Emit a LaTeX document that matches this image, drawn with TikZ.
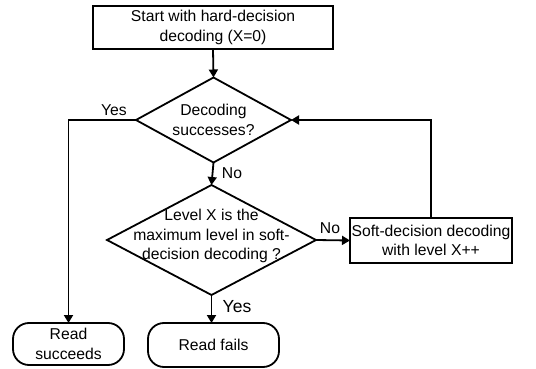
\documentclass[tikz,border=0pt]{standalone}
\usepackage{fontspec}
\setmainfont{Liberation Sans}
\usetikzlibrary{shapes.geometric,arrows.meta}
\begin{document}
\begin{tikzpicture}[x=1pt,y=-1pt,
  every node/.style={font=\fontsize{15.7}{19.5}\selectfont},
  proc/.style={draw,line width=1.8pt,inner sep=0pt,outer sep=0pt,align=center},
  dia/.style={draw,diamond,line width=1.8pt,inner sep=0pt,outer sep=0pt},
  term/.style={draw,line width=1.8pt,rounded corners=16pt,inner sep=0pt,outer sep=0pt,align=center},
  txt/.style={align=center,inner sep=0pt},
  lbl/.style={inner sep=0pt},
  arr/.style={line width=1.8pt,-{Triangle[length=8pt,width=9pt]}},
  ln/.style={line width=1.8pt}]
\useasboundingbox (0,0) rectangle (536,369);
\node[proc,minimum width=240pt,minimum height=43pt] (top) at (213,27.5) {Start with hard-decision\\decoding (X=0)};
\node[dia,minimum width=155pt,minimum height=85pt] (d1) at (213.5,120) {};
\node[txt] (t1) at (d1) {Decoding\\successes?};
\node[dia,minimum width=209pt,minimum height=110pt] (d2) at (211.5,240) {};
\node[txt] (t2) at (211.5,236) {Level X is the\\maximum level in soft-\\decision decoding ?};
\node[proc,minimum width=162pt,minimum height=45pt] (b2) at (431,240.5) {Soft-decision decoding\\with level X++};
\node[term,minimum width=111pt,minimum height=42pt] (rs) at (68.5,344) {Read\\succeeds};
\node[term,minimum width=131pt,minimum height=44pt] (rf) at (213.5,345) {Read fails};
\draw[arr] (top.south) -- (d1.north);
\draw[arr] (d1.west) -| (rs.north);
\draw[arr] (d1.south) -- (d2.north);
\draw[arr] (d2.east) -- (b2.west);
\draw[arr] (b2.north) |- (d1.east);
\draw[arr] (d2.south) -- (d2.south |- rf.north);
\node[lbl] (l1) at (114,110) {Yes};
\node[lbl] (l2) at (232,173) {No};
\node[lbl] (l3) at (330,228) {No};
\node[lbl,font=\fontsize{17.5}{20}\selectfont] (l4) at (237,307) {Yes};
\end{tikzpicture}
\end{document}
